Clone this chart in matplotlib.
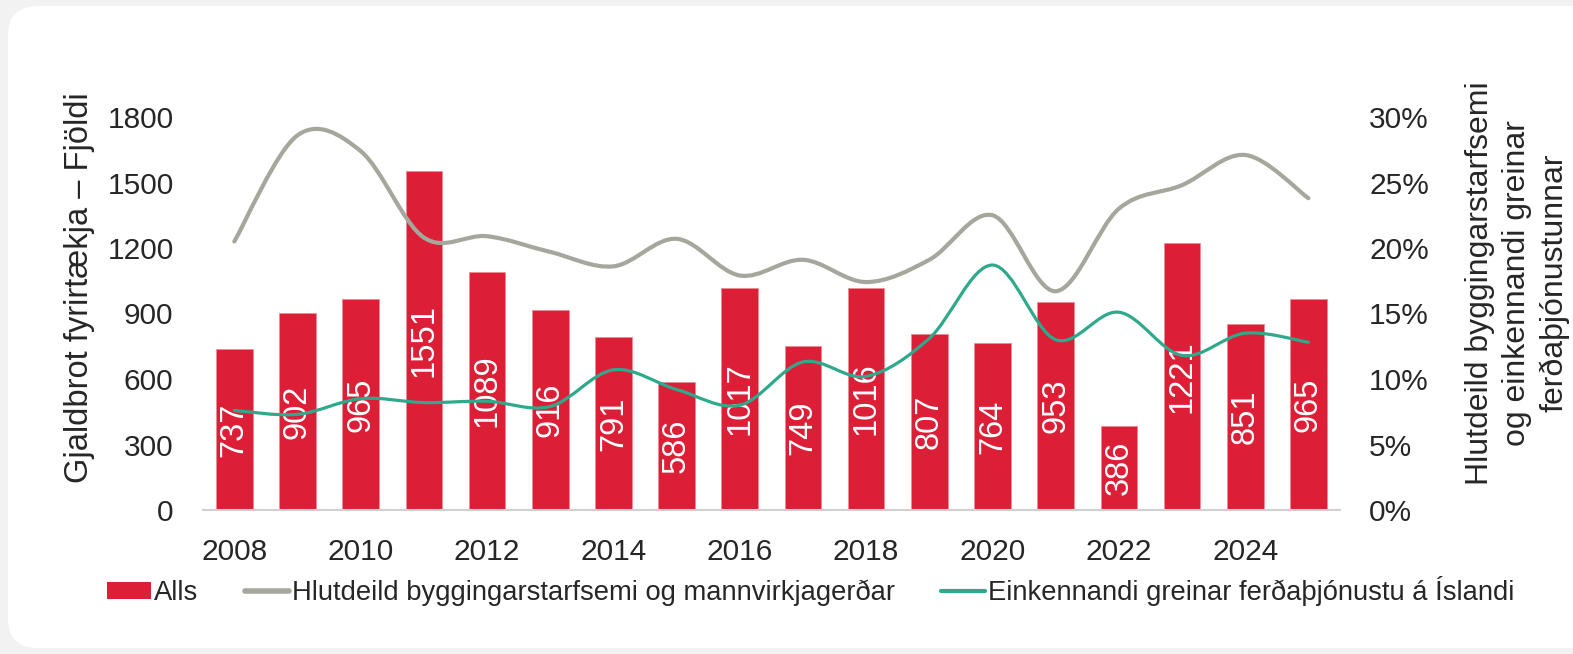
import matplotlib
matplotlib.use("Agg")
import matplotlib.pyplot as plt
from matplotlib.path import Path
from matplotlib.patches import PathPatch, FancyBboxPatch, Patch
from matplotlib.lines import Line2D
import numpy as np

plt.rcParams['font.family'] = ['Liberation Sans', 'DejaVu Sans']

years = list(range(2008, 2026))
alls = [737, 902, 965, 1551, 1089, 916, 791, 586, 1017, 749, 1016, 807, 764, 953, 386, 1221, 851, 965]
bygg = [20.5, 28.6, 27.4, 20.8, 20.9, 19.7, 18.6, 20.7, 17.9, 19.1, 17.4, 19.1, 22.5, 16.7, 23.0, 24.8, 27.1, 23.8]
ferd = [7.6, 7.3, 8.5, 8.2, 8.3, 7.9, 10.7, 9.2, 8.0, 11.3, 10.2, 13.1, 18.7, 13.0, 15.1, 11.8, 13.5, 12.8]
xtick_labels = [str(y) if y % 2 == 0 else '' for y in years]

RED = '#DC1E36'
GRAY = '#A6A79C'
TEAL = '#2FA98C'
TXT = '#262626'

W, H = 1573, 654
fig = plt.figure(figsize=(W / 100, H / 100), dpi=100)
fig.patch.set_facecolor('#F2F2F2')
bg = FancyBboxPatch((0.08, 0.06), 16.0, 6.42, boxstyle='round,pad=0,rounding_size=0.3',
                    transform=fig.dpi_scale_trans, facecolor='white', edgecolor='none', zorder=-10)
fig.patches.append(bg)

left = 202.7 / W
bottom = 1 - 510 / H
width = (1340 - 202.7) / W
height = (510 - 117) / H
ax = fig.add_axes([left, bottom, width, height])
ax.set_facecolor('none')
x = np.arange(len(years))
bars = ax.bar(x, alls, width=0.58, color=RED, edgecolor='#EE8A96', linewidth=0.6, zorder=2)
ax.set_xlim(-0.5, len(years) - 0.5)
ax.set_ylim(0, 1800)
ax.set_yticks(range(0, 1801, 300))
ax.set_xticks(x)
ax.set_xticklabels(xtick_labels)
for s in ['top', 'right', 'left']:
    ax.spines[s].set_visible(False)
ax.spines['bottom'].set_color('#D0D0D0')
ax.spines['bottom'].set_linewidth(1.5)
ax.tick_params(axis='both', length=0, labelsize=21.5, colors=TXT)
ax.tick_params(axis='y', pad=21)
ax.tick_params(axis='x', pad=20)

for xi, v in zip(x, alls):
    ax.text(xi, v / 2, str(v), rotation=90, ha='center', va='center', color='white',
            fontsize=23.5, zorder=5)

ax2 = ax.twinx()
ax2.set_ylim(0, 30)
ax2.set_yticks(range(0, 31, 5))
ax2.set_yticklabels([f'{v}%' for v in range(0, 31, 5)])
for s in ['top', 'right', 'left', 'bottom']:
    ax2.spines[s].set_visible(False)
ax2.tick_params(axis='y', length=0, labelsize=21.5, colors=TXT, pad=21)


def smooth_path(xs, ys, t=1/6):
    xs = np.asarray(xs, float)
    ys = np.asarray(ys, float)
    n = len(xs)
    verts = [(xs[0], ys[0])]
    codes = [Path.MOVETO]
    for i in range(n - 1):
        p0 = np.array([xs[max(i - 1, 0)], ys[max(i - 1, 0)]])
        p1 = np.array([xs[i], ys[i]])
        p2 = np.array([xs[i + 1], ys[i + 1]])
        p3 = np.array([xs[min(i + 2, n - 1)], ys[min(i + 2, n - 1)]])
        c1 = p1 + (p2 - p0) * t
        c2 = p2 - (p3 - p1) * t
        verts += [tuple(c1), tuple(c2), tuple(p2)]
        codes += [Path.CURVE4] * 3
    return Path(verts, codes)


ax2.add_patch(PathPatch(smooth_path(x, bygg), facecolor='none', edgecolor=GRAY, lw=3.0,
                        capstyle='round', zorder=3))
ax2.add_patch(PathPatch(smooth_path(x, ferd), facecolor='none', edgecolor=TEAL, lw=2.3,
                        capstyle='round', zorder=4))

fig.text(80 / W, 1 - 288 / H, 'Gjaldbrot fyrirtækja – Fjöldi', rotation=90, ha='center',
         va='center', fontsize=23.5, color=TXT)
fig.text(1517 / W, 1 - 283 / H, 'Hlutdeild byggingarstarfsemi\nog einkennandi greinar\nferðaþjónustunnar',
         rotation=90, ha='center', va='center', multialignment='center', fontsize=23,
         color=TXT, linespacing=1.3)

handles = [Patch(facecolor=RED, edgecolor='none'),
           Line2D([0], [0], color=GRAY, lw=4, solid_capstyle='round'),
           Line2D([0], [0], color=TEAL, lw=3, solid_capstyle='round')]
labels = ['Alls', 'Hlutdeild byggingarstarfsemi og mannvirkjagerðar',
          'Einkennandi greinar ferðaþjónustu á Íslandi']
fig.legend(handles, labels, loc='center left', bbox_to_anchor=(107 / W, 1 - 591 / H), ncol=3,
           frameon=False, fontsize=19.7, handlelength=1.6, handleheight=0.62, handletextpad=0.12,
           columnspacing=1.7, borderpad=0, borderaxespad=0, labelcolor=TXT)

fig.savefig('out.png', dpi=100, facecolor=fig.get_facecolor())
